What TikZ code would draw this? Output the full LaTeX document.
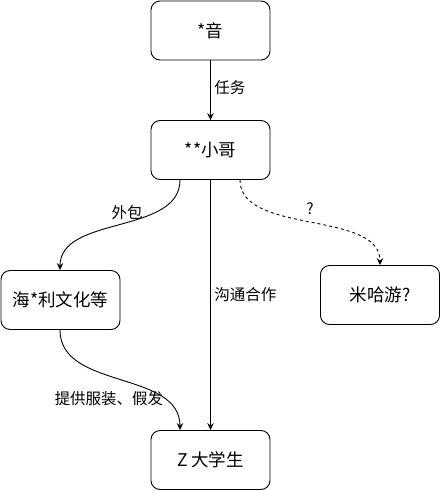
\documentclass[tikz,border=0pt]{standalone}
\usepackage{fontspec}
\setmainfont{Noto Sans CJK SC}
\usetikzlibrary{arrows.meta}

\begin{document}
\begin{tikzpicture}[x=1pt,y=-1pt,
		box/.style={draw,line width=0.9pt,rounded corners=9pt,minimum width=119pt,minimum height=59pt,font=\fontsize{17.5}{20}\selectfont},
		edge/.style={line width=0.9pt,-{Stealth[length=7pt,width=6.5pt,inset=2.5pt]}},
		lbl/.style={font=\fontsize{15.5}{18}\selectfont}]
		\useasboundingbox (0,0) rectangle (441,491);
		\node[box] (yin) at (210.5,30.5) {*音};
		\node[box] (xiaoge) at (210.5,150) {**小哥};
		\node[box] (haili) at (60.5,300) {海*利文化等};
		\node[box] (mihoyo) at (380,295) {米哈游?};
		\node[box] (student) at (210.5,460) {Z 大学生};
		\draw[edge] (yin) -- (xiaoge) node[lbl,pos=0.45,right] (renwu) {任务};
		\draw[edge] (xiaoge) -- (student) node[lbl,pos=0.46,right] (goutong) {沟通合作};
		\draw[edge] ([xshift=-30.5pt]xiaoge.south) .. controls +(0,55) and +(0,-55) .. ([xshift=-0.5pt]haili.north)
		node[lbl,pos=0.5,xshift=7pt,yshift=12pt] (waibao) {外包};
		\draw[edge,dashed] ([xshift=29.5pt]xiaoge.south) .. controls +(0,55) and +(0,-55) .. (mihoyo.north)
		node[lbl,pos=0.5,yshift=14pt] (wenhao) {?};
		\draw[edge] ([xshift=-0.5pt]haili.south) .. controls +(0,60) and +(0,-60) .. ([xshift=-30.5pt]student.north)
		node[lbl,pos=0.5,xshift=-11pt,yshift=-19pt] (tigong) {提供服装、假发};
	\end{tikzpicture}
\end{document}
